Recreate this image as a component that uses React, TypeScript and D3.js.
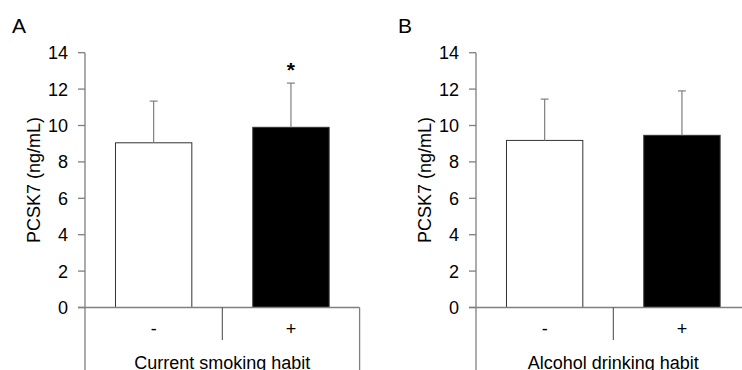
import React from 'react';
import * as d3 from 'd3';

// values (mean, SD)
const groups = ['-', '+'];
const yTicks = [0, 2, 4, 6, 8, 10, 12, 14];

const smokingMeans = [9.05, 9.9];
const smokingSD = [2.29, 2.43];
const smokingSig = [false, true];

const alcoholMeans = [9.18, 9.46];
const alcoholSD = [2.27, 2.44];
const alcoholSig = [false, false];

const barFills = ['#ffffff', '#000000'];

const W = 742;
const H = 370;
const FONT = 'Arial, "Liberation Sans", Helvetica, sans-serif';
const AXIS = '#7f7f7f';
const FS = 18;

const yScale = d3.scaleLinear().domain([0, 14]).range([307.5, 52.7]);

type PanelProps = {
  x0: number;
  letterX: number;
  letter: string;
  means: number[];
  sds: number[];
  sig: boolean[];
  xTitle: string;
};

const Panel = ({ x0, letterX, letter, means, sds, sig, xTitle }: PanelProps) => {
  const plotW = 274.6;
  const xScale = d3.scaleBand<string>()
    .domain(groups)
    .range([x0, x0 + plotW])
    .paddingInner(0.444)
    .paddingOuter(0.222);
  const y0 = yScale(0);
  const tickLen = 7;

  return (
    <g fontFamily={FONT}>
      <text x={letterX} y={33} fontSize={21}>{letter}</text>

      {/* y axis label */}
      <text
        transform={`translate(${x0 - 45},${(yScale(0) + yScale(14)) / 2}) rotate(-90)`}
        textAnchor="middle"
        fontSize={FS}
      >PCSK7 (ng/mL)</text>

      {/* bars */}
      {groups.map((g, i) => (
        <rect
          key={g}
          x={xScale(g)}
          y={yScale(means[i])}
          width={xScale.bandwidth()}
          height={y0 - yScale(means[i])}
          fill={barFills[i]}
          stroke="#333"
          strokeWidth={1}
        />
      ))}

      {/* error bars */}
      {groups.map((g, i) => {
        const cx = (xScale(g) as number) + xScale.bandwidth() / 2;
        const top = yScale(means[i] + sds[i]);
        return (
          <g key={'e' + g} stroke={AXIS} strokeWidth={1.2}>
            <line x1={cx} x2={cx} y1={yScale(means[i])} y2={top} />
            <line x1={cx - 4} x2={cx + 4} y1={top} y2={top} />
            {sig[i] && (
              <text x={cx} y={top - 6} textAnchor="middle" fontSize={21} fontWeight="bold" stroke="none" fill="#000">*</text>
            )}
          </g>
        );
      })}

      {/* y axis + table frame */}
      <g stroke={AXIS} strokeWidth={1.3} fill="none">
        <line x1={x0} x2={x0} y1={yScale(14)} y2={H} />
        <line x1={x0 - tickLen} x2={x0 + plotW} y1={y0} y2={y0} />
        <line x1={x0 + plotW} x2={x0 + plotW} y1={y0} y2={H} />
        <line x1={x0 + plotW / 2} x2={x0 + plotW / 2} y1={y0} y2={340} stroke="#444" strokeWidth={1} />
        {yTicks.map(t => (
          <line key={t} x1={x0 - tickLen} x2={x0} y1={yScale(t)} y2={yScale(t)} />
        ))}
      </g>

      {yTicks.map(t => (
        <text key={'l' + t} x={x0 - 17} y={yScale(t)} dy="0.36em" textAnchor="end" fontSize={FS} fill="#000">{t}</text>
      ))}

      {groups.map(g => (
        <text
          key={'c' + g}
          x={(xScale(g) as number) + xScale.bandwidth() / 2}
          y={335}
          textAnchor="middle"
          fontSize={FS}
        >{g}</text>
      ))}

      <text x={x0 + plotW / 2} y={369} textAnchor="middle" fontSize={FS}>{xTitle}</text>
    </g>
  );
};

export default function App() {
  return (
    <svg
      width={W}
      height={H}
      style={{ position: 'absolute', left: 0, top: 0, background: '#fff' }}
    >
      <rect width={W} height={H} fill="#fff" />
      <Panel x0={85} letterX={12} letter="A" means={smokingMeans} sds={smokingSD} sig={smokingSig} xTitle="Current smoking habit" />
      <Panel x0={476} letterX={398} letter="B" means={alcoholMeans} sds={alcoholSD} sig={alcoholSig} xTitle="Alcohol drinking habit" />
    </svg>
  );
}
